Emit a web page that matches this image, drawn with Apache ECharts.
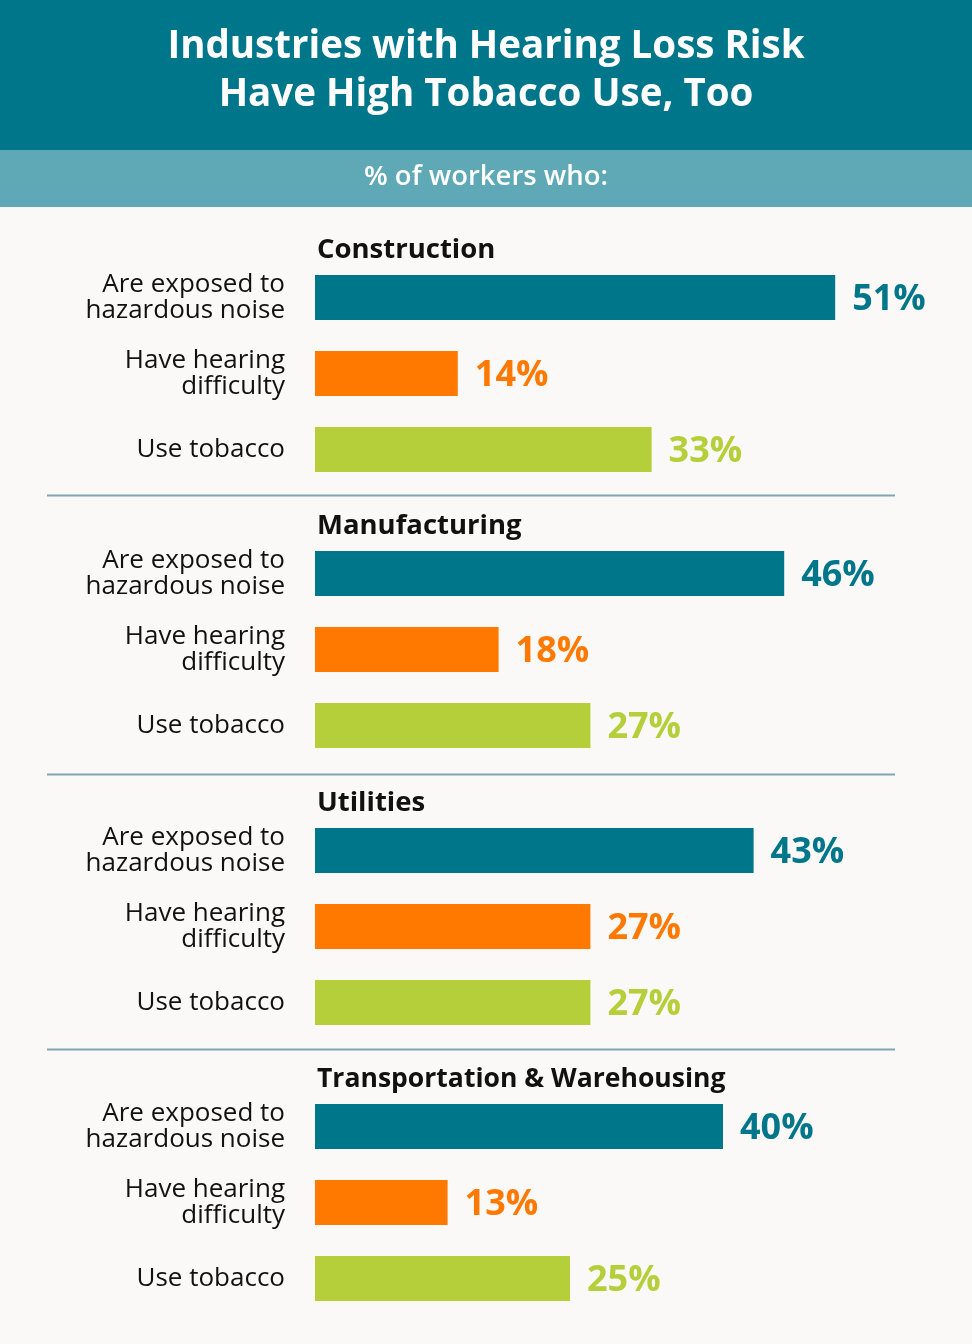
<!DOCTYPE html>
<html>
<head>
<meta charset="utf-8">
<script src="https://cdn.jsdelivr.net/npm/echarts@6/dist/echarts.min.js"></script>
<style>
html,body{margin:0;padding:0;background:#FAF9F7;}
#chart{width:972px;height:1344px;}
</style>
</head>
<body>
<div id="chart"></div>
<script>
const titleLines = ["Industries with Hearing Loss Risk", "Have High Tobacco Use, Too"];
const subtitle = "% of workers who:";
const industries = ["Construction", "Manufacturing", "Utilities", "Transportation & Warehousing"];
const measures = ["Are exposed to\nhazardous noise", "Have hearing\ndifficulty", "Use tobacco"];
const noiseExposed = [51, 46, 43, 40];
const hearingDifficulty = [14, 18, 27, 13];
const tobaccoUse = [33, 27, 27, 25];

const colors = ["#00768A", "#FF7900", "#B5CF3A"];
const FONT = "Open Sans";

const chart = echarts.init(document.getElementById('chart'));

const gridTops = [259.5, 535.5, 812.5, 1088.5];
const grids = [], xAxes = [], yAxes = [], series = [], graphics = [];

graphics.push({type:'rect', shape:{x:0,y:0,width:972,height:150}, style:{fill:'#00768A'}, silent:true});
graphics.push({type:'rect', shape:{x:0,y:150,width:972,height:57}, style:{fill:'#5EA9B5'}, silent:true});
graphics.push({type:'text', x:486, y:71, style:{text:titleLines.join('\n'), fill:'#fff', font:'bold 38.5px "Open Sans"', lineHeight:48, align:'center', verticalAlign:'middle'}, silent:true});
graphics.push({type:'text', x:486, y:177, style:{text:subtitle, fill:'#fff', font:'600 27.5px "Open Sans"', align:'center', verticalAlign:'middle'}, silent:true});

industries.forEach((ind, i) => {
  const top = gridTops[i];
  grids.push({left:315, width:612, top:top, height:228});
  xAxes.push({type:'value', gridIndex:i, min:0, max:60, show:false});
  yAxes.push({type:'category', gridIndex:i, data:measures, inverse:true,
    axisLine:{show:false}, axisTick:{show:false},
    axisLabel:{margin:30, color:'#111', fontFamily:FONT, fontSize:26, lineHeight:26, align:'right', padding:[4,0,0,0]}});
  const vals = [noiseExposed[i], hearingDifficulty[i], tobaccoUse[i]];
  series.push({type:'bar', xAxisIndex:i, yAxisIndex:i, barWidth:45,
    data: vals.map((v, k) => ({value:v, itemStyle:{color:colors[k]}, label:{color:colors[k]}})),
    label:{show:true, position:'right', distance:17, offset:[0,2], formatter:'{c}%', fontFamily:FONT, fontWeight:'bold', fontSize:36},
    silent:true, animation:false});
  const titleScale = ind.length > 20 ? 0.965 : 1;
  graphics.push({type:'text', x:317, y:top-9, scaleX:titleScale, style:{text:ind, fill:'#111', font:'bold 27.5px "Open Sans"', align:'left', verticalAlign:'middle'}, silent:true});
  if (i > 0) {
    const ly = [495.5, 774.5, 1049.5][i-1];
    graphics.push({type:'line', shape:{x1:47,y1:ly,x2:895,y2:ly}, style:{stroke:'#7FA7B2', lineWidth:2}, silent:true});
  }
});

chart.setOption({
  backgroundColor:'#FAF9F7',
  animation:false,
  grid:grids, xAxis:xAxes, yAxis:yAxes, series:series,
  graphic:graphics
});
</script>
</body>
</html>
